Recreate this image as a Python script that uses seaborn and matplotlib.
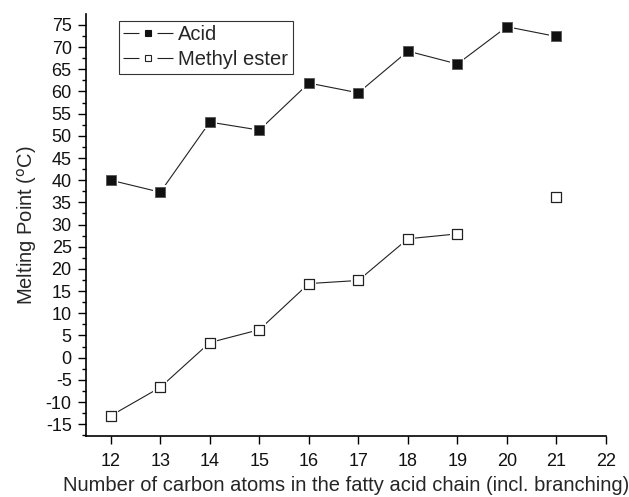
import matplotlib
matplotlib.use("Agg")
import matplotlib.pyplot as plt
from matplotlib.ticker import MultipleLocator
from matplotlib.lines import Line2D
from matplotlib.legend_handler import HandlerTuple
import seaborn as sns
import pandas as pd

carbons_acid = [12, 13, 14, 15, 16, 17, 18, 19, 20, 21]
acid_mp = [40.0, 37.3, 53.1, 51.3, 61.9, 59.7, 69.1, 66.2, 74.6, 72.4]
carbons_ester = [12, 13, 14, 15, 16, 17, 18, 19]
ester_mp = [-13.1, -6.7, 3.4, 6.3, 16.7, 17.4, 26.8, 27.9]
carbons_ester_iso = [21]
ester_mp_iso = [36.3]
x_ticks = list(range(12, 23))
y_ticks = list(range(-15, 80, 5))

sns.set_theme(style="ticks")
plt.rcParams['font.family'] = ['Liberation Sans', 'DejaVu Sans']
plt.rcParams['axes.unicode_minus'] = False
plt.rcParams['lines.scale_dashes'] = False

fig = plt.figure(figsize=(6.29, 4.97), dpi=100)
ax = fig.add_axes([0.1367, 0.1233, 0.8267, 0.8479])

df_acid = pd.DataFrame({"x": carbons_acid, "y": acid_mp})
df_est = pd.DataFrame({"x": carbons_ester, "y": ester_mp})
df_iso = pd.DataFrame({"x": carbons_ester_iso, "y": ester_mp_iso})
df_est_all = pd.concat([df_est, df_iso], ignore_index=True)

line_kw = dict(color="#222222", linewidth=0.8)
sns.lineplot(data=df_acid, x="x", y="y", ax=ax, **line_kw)
sns.lineplot(data=df_est, x="x", y="y", ax=ax, **line_kw)

# white halos that leave a small gap between line and marker
for d in (df_acid, df_est_all):
    sns.scatterplot(data=d, x="x", y="y", ax=ax, marker="s", s=110,
                    color="white", linewidth=0, zorder=3)
sns.scatterplot(data=df_acid, x="x", y="y", ax=ax, marker="s", s=42,
                facecolor="#111111", edgecolor="#555555", linewidth=0.6, zorder=4)
sns.scatterplot(data=df_est_all, x="x", y="y", ax=ax, marker="s", s=42,
                facecolor="white", edgecolor="#222222", linewidth=0.9, zorder=4)

ax.set_xlim(11.5, 22)
ax.set_ylim(-17.6, 77.4)
ax.set_xticks(x_ticks)
ax.set_yticks(y_ticks)
ax.yaxis.set_minor_locator(MultipleLocator(2.5))
ax.tick_params(axis="both", which="major", direction="out", length=5.8, width=1,
               labelsize=13, color="black", labelcolor="#111111")
ax.tick_params(axis="x", which="major", pad=6.3)
ax.tick_params(axis="y", which="major", pad=4.5)
ax.tick_params(axis="y", which="minor", direction="out", length=3, width=1, color="black")
for s in ["top", "right"]:
    ax.spines[s].set_visible(False)
for s in ["left", "bottom"]:
    ax.spines[s].set_color("black")
    ax.spines[s].set_linewidth(1.2)

ax.set_xlabel("Number of carbon atoms in the fatty acid chain (incl. branching)", fontsize=14.5, labelpad=5)
ax.set_ylabel("Melting Point ($^{\\mathrm{o}}$C)", fontsize=14.5, labelpad=5)

def legend_handle(face, edge):
    ln = Line2D([], [], color="#222222", linewidth=0.8, linestyle=(0, (11.5, 13, 20, 1)))
    mk = Line2D([], [], linestyle="none", marker="s", markersize=5,
                markerfacecolor=face, markeredgecolor=edge, markeredgewidth=0.8)
    return (ln, mk)

handles = [legend_handle("#111111", "#111111"), legend_handle("white", "#222222")]
leg = ax.legend(handles, ["Acid", "Methyl ester"], loc="upper left",
                handler_map={tuple: HandlerTuple(ndivide=1, pad=0)},
                bbox_to_anchor=(0.063, 0.984), fontsize=14.5, frameon=True, fancybox=False,
                edgecolor="black", handlelength=2.48, handletextpad=0.25,
                borderpad=0.22, labelspacing=0.28, borderaxespad=0)
leg.get_frame().set_linewidth(0.8)

fig.savefig("out.png", dpi=100)
